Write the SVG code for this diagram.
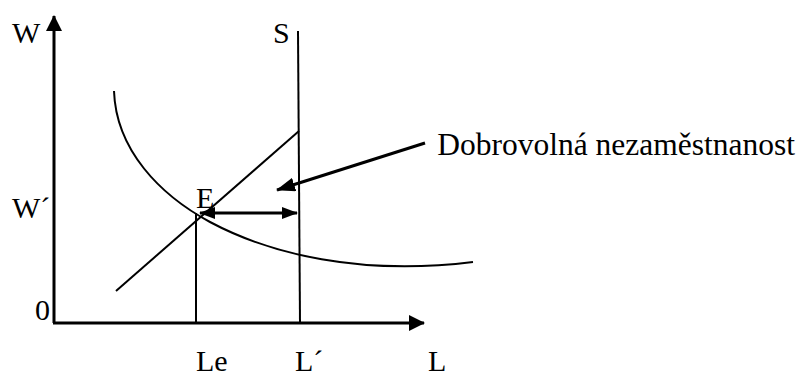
<svg xmlns="http://www.w3.org/2000/svg" width="802" height="376" viewBox="0 0 802 376">
<style>
  .t { font-family: 'Liberation Serif', 'DejaVu Serif', serif; font-size: 30px; fill: #000; }
  .ln { stroke: #000; stroke-width: 2; fill: none; }
  .ax { stroke: #000; stroke-width: 3; fill: none; }
  .ar { stroke: #000; stroke-width: 3; fill: none; }
</style>
<defs>
  <marker id="axhead" markerUnits="userSpaceOnUse" markerWidth="16" markerHeight="16" refX="15" refY="8" orient="auto">
    <path d="M0,0 L16,8 L0,16 Z" fill="#000"/>
  </marker>
  <marker id="head" markerUnits="userSpaceOnUse" markerWidth="16" markerHeight="12" refX="15" refY="6" orient="auto-start-reverse">
    <path d="M0,0 L16,6 L0,12 Z" fill="#000"/>
  </marker>
  <marker id="phead" markerUnits="userSpaceOnUse" markerWidth="19" markerHeight="14" refX="18" refY="7" orient="auto">
    <path d="M0,0 L19,7 L0,14 Z" fill="#000"/>
  </marker>
</defs>
<g id="axes">
  <line class="ax" x1="54" y1="323" x2="54" y2="16" marker-end="url(#axhead)"/>
  <line class="ax" x1="53" y1="323" x2="424" y2="323" marker-end="url(#axhead)"/>
</g>
<g id="curves">
  <path id="demand" class="ln" d="M114,91 C116,150 160,195 210,222 C270,254 360,276 473,262"/>
  <line id="rising" class="ln" x1="116" y1="291" x2="299" y2="131"/>
  <line id="supply" class="ln" x1="298" y1="31" x2="300" y2="323"/>
  <line id="le-line" class="ln" x1="196" y1="213" x2="196" y2="323"/>
</g>
<g id="connectors">
  <line class="ar" x1="200" y1="213" x2="297" y2="213" marker-start="url(#head)" marker-end="url(#head)"/>
  <line class="ar" x1="425" y1="143" x2="277" y2="190" marker-end="url(#phead)"/>
</g>
<g id="labels" font-family="Liberation Serif, DejaVu Serif, serif">
  <text class="t" x="12" y="43">W</text>
  <text class="t" x="273" y="43">S</text>
  <text class="t" x="12" y="218">W´</text>
  <text class="t" x="196" y="208">E</text>
  <text class="t" x="35" y="320">0</text>
  <text class="t" x="196" y="371">Le</text>
  <text class="t" x="295" y="371">L´</text>
  <text class="t" x="428" y="371">L</text>
  <text class="t" x="795" y="155" text-anchor="end" style="font-size:31.5px">Dobrovolná nezaměstnanost</text>
</g>
</svg>
